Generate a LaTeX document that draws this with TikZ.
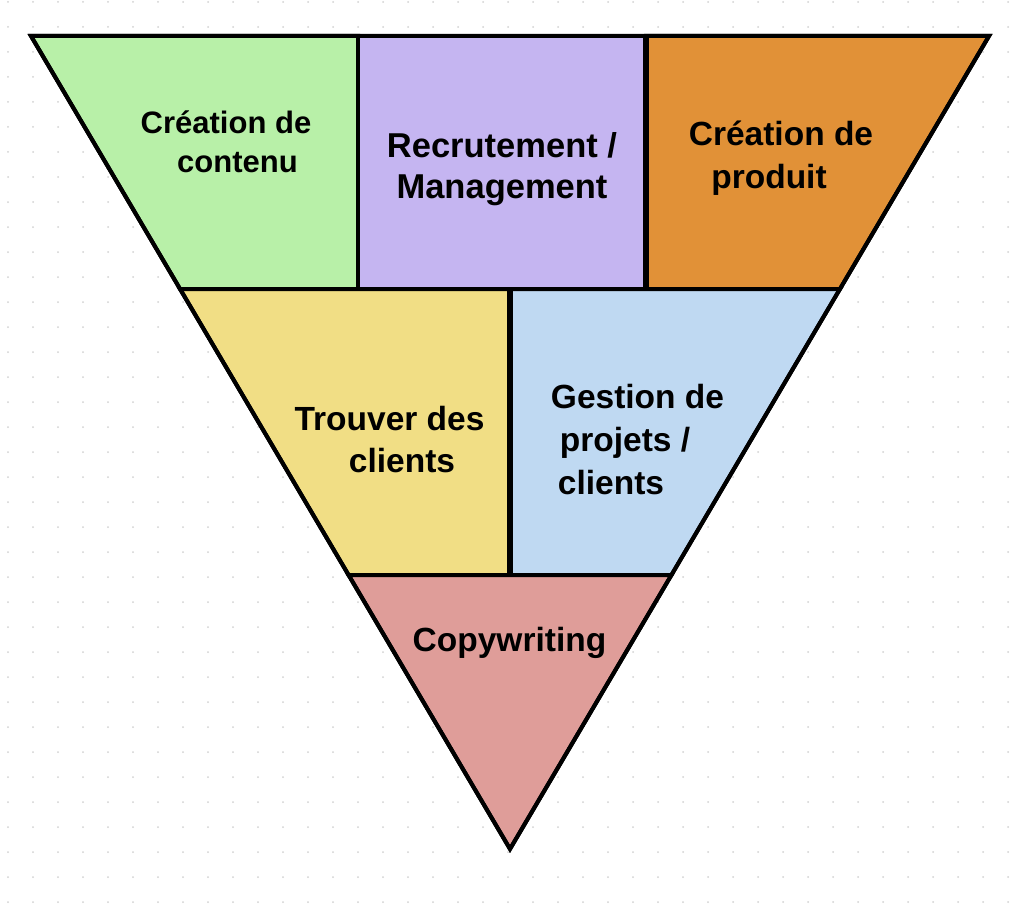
\documentclass[tikz,border=0pt]{standalone}
\usepackage{fontspec}
\setmainfont{Liberation Sans}
\usetikzlibrary{calc}
\definecolor{cgreen}{RGB}{184,240,168}
\definecolor{cpurple}{RGB}{197,181,241}
\definecolor{corange}{RGB}{225,145,55}
\definecolor{cyellow}{RGB}{241,222,133}
\definecolor{cblue}{RGB}{191,217,242}
\definecolor{cpink}{RGB}{223,157,153}
\definecolor{dotc}{RGB}{210,210,210}
\begin{document}
\begin{tikzpicture}[x=1pt,y=-1pt,
  region/.style={draw=black,line width=4pt,line join=miter},
  divider/.style={draw=black,line width=5.5pt},
  lbl/.style={inner sep=0pt,align=center},
  fsmall/.style={font=\bfseries\fontsize{31}{39.4}\selectfont},
  fmid/.style={font=\bfseries\fontsize{34.5}{41}\selectfont},
  fnorm/.style={font=\bfseries\fontsize{33.5}{42.5}\selectfont}]
\useasboundingbox (0,0) rectangle (1024,904);
\fill[white] (0,0) rectangle (1024,904);
\foreach \i in {0,...,40} \foreach \j in {0,...,36} \fill[dotc] (8+25*\i, 2+25*\j) circle (1pt);
% frame
\coordinate (A) at (31,36);
\coordinate (B) at (989,36);
\coordinate (C) at (510,849);
\coordinate (L1) at ($(A)!0.3112!(C)$);
\coordinate (R1) at ($(B)!0.3112!(C)$);
\coordinate (L2) at ($(A)!0.6630!(C)$);
\coordinate (R2) at ($(B)!0.6630!(C)$);
\coordinate (T1) at (358,36);
\coordinate (M1) at (358,289);
\coordinate (T2) at (646,36);
\coordinate (M2) at (646,289);
\coordinate (U) at (510,289);
\coordinate (V) at (510,575);
% regions
\draw[region,fill=cgreen] (A) -- (T1) -- (M1) -- (L1) -- cycle;
\draw[region,fill=cpurple] (T1) -- (T2) -- (M2) -- (M1) -- cycle;
\draw[region,fill=corange] (T2) -- (B) -- (R1) -- (M2) -- cycle;
\draw[region,fill=cyellow] (L1) -- (U) -- (V) -- (L2) -- cycle;
\draw[region,fill=cblue] (U) -- (R1) -- (R2) -- (V) -- cycle;
\draw[region,fill=cpink] (L2) -- (R2) -- (C) -- cycle;
\draw[divider] (T2) -- (M2);
\draw[divider] (U) -- (V);
\draw[region] (A) -- (B) -- (C) -- cycle;
% labels
\node[lbl,fsmall] (contenu) at (226,141.5) {Création de\\\rule{23pt}{0pt}contenu};
\node[lbl,fmid] (recrut) at (502,169) {Recrutement /\\Management};
\node[lbl,font=\bfseries\fontsize{33.5}{42.6}\selectfont] (produit) at (781,158) {Création de\\produit\rule{24pt}{0pt}};
\node[lbl,font=\bfseries\fontsize{33.5}{42}\selectfont] (clients) at (389.5,439.5) {Trouver des\\\rule{25pt}{0pt}clients};
\node[lbl,font=\bfseries\fontsize{33.5}{43}\selectfont] (gestion) at (637.5,440) {Gestion de\\projets /\rule{25pt}{0pt}\\clients\rule{53pt}{0pt}};
\node[lbl,fnorm] (copy) at (509.5,643) {Copywriting};
\end{tikzpicture}
\end{document}
